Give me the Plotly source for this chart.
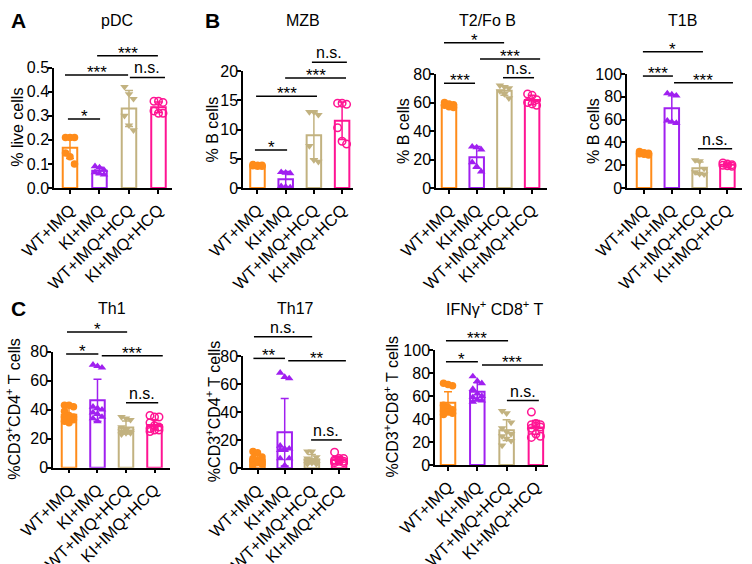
import plotly.graph_objects as go

W, H = 752, 564
FONT = "Arial, 'Liberation Sans', sans-serif"

groups = ["WT+IMQ", "KI+IMQ", "WT+IMQ+HCQ", "KI+IMQ+HCQ"]
colors = ["#FF8C1A", "#A020F0", "#C2B280", "#FF1493"]
symbols = ["circle", "triangle-up", "triangle-down", "circle-open"]

# ---------------- data ----------------
pdc_mean = [0.167, 0.072, 0.33, 0.335]
pdc_sd = [0.045, 0.014, 0.075, 0.022]
pdc_pts = [[0.21, 0.21, 0.21, 0.145, 0.13, 0.10],
           [0.09, 0.085, 0.075, 0.065, 0.06, 0.055],
           [0.42, 0.39, 0.37, 0.30, 0.26, 0.24],
           [0.36, 0.36, 0.355, 0.32, 0.31, 0.31]]
pdc_sig = [("*", -0.07, 1.02, 0.286), ("***", -0.17, 1.97, 0.469),
           ("n.s.", 2.03, 3.22, 0.459), ("***", 0.92, 2.98, 0.549)]

mzb_mean = [3.8, 1.5, 9.0, 11.5]
mzb_sd = [0.2, 1.3, 4.0, 3.2]
mzb_pts = [[4.0, 3.9, 3.9, 3.8, 3.7, 3.7],
           [2.7, 2.6, 2.5, 0.3, 0.2, 0.1],
           [13.0, 13.0, 12.5, 7.2, 4.8, 4.5],
           [14.5, 14.5, 14.3, 10.3, 8.0, 7.5]]
mzb_sig = [("*", -0.09, 1.05, 6.5), ("***", -0.05, 2.11, 15.7),
           ("***", 0.98, 3.14, 18.8), ("n.s.", 1.93, 3.17, 21.5)]

t2_mean = [58.2, 21.5, 68.3, 61.7]
t2_sd = [1.2, 7.6, 3.3, 3.3]
t2_pts = [[60, 59, 58.5, 58, 57, 56.5],
          [29, 28.5, 27, 18, 15, 11.5],
          [72, 71, 70, 68, 66, 63],
          [66, 65, 62, 60, 59, 58]]
t2_sig = [("*", -0.18, 1.99, 102), ("***", 1.12, 3.29, 90.5),
          ("***", -0.18, 0.94, 73.5), ("n.s.", 1.95, 3.07, 77.4)]

t1b_mean = [30.3, 70.0, 17.3, 20.3]
t1b_sd = [1.1, 12.0, 5.5, 1.1]
t1b_pts = [[32, 31, 30.5, 30, 29.5, 29],
           [83, 82, 81, 59, 58, 57],
           [24.5, 23.5, 17, 14, 12.5, 12],
           [22, 21, 20.5, 20, 19.5, 19]]
t1b_sig = [("*", -0.04, 2.12, 119.6), ("***", -0.04, 1.04, 98.2),
           ("***", 1.08, 3.2, 92.4), ("n.s.", 1.94, 3.17, 34.5)]

th1_mean = [36.6, 46.5, 27.7, 29.5]
th1_sd = [4.7, 14.5, 4.5, 3.5]
th1_pts = [[43, 43, 42, 39, 36, 35, 35, 34, 33, 32, 31],
           [71, 70, 69, 42, 41, 40, 38, 37, 35, 34, 32],
           [35, 34, 33, 28, 26, 25, 25, 24, 24, 23],
           [36, 35, 35, 31, 29, 28, 27, 26, 26, 25]]
th1_sig = [("*", -0.07, 2.04, 93.6), ("*", -0.1, 1.03, 78.4),
           ("***", 1.15, 3.29, 77.2), ("n.s.", 2.0, 3.13, 44.8)]

th17_mean = [6.3, 25.7, 6.5, 6.0]
th17_sd = [3.3, 24.0, 3.3, 2.0]
th17_pts = [[12, 11, 8, 7, 6, 5, 5, 4, 3, 2],
            [68, 65, 64, 16, 14, 14, 13, 13, 7, 7, 2],
            [12, 12, 8, 7, 6, 5, 5, 4, 3, 3],
            [11.5, 7, 7, 6, 6, 5, 5, 5, 4, 4]]
th17_sig = [("n.s.", -0.13, 2.01, 93.7), ("**", -0.15, 1.01, 78.3),
            ("**", 1.13, 3.25, 76.6), ("n.s.", 1.97, 3.1, 20.2)]

ifn_mean = [54.2, 63.6, 30.3, 32.7]
ifn_sd = [9.5, 8.0, 9.0, 6.0]
ifn_pts = [[71, 70, 69, 52, 50, 48, 47, 46, 45, 44],
           [77, 73, 71, 66, 62, 60, 59, 57, 56, 55],
           [47, 45, 37, 32, 29, 27, 25, 23, 21, 17],
           [46, 36, 35, 35, 34, 33, 32, 27, 25, 24]]
ifn_sig = [("***", -0.07, 2.05, 108), ("*", -0.07, 1.02, 89.8),
           ("***", 1.16, 3.24, 87), ("n.s.", 2.01, 3.1, 56)]

# ---------------- layout of panels (pixel boxes) ----------------
panels = [
    dict(title="pDC", ytitle="% live cells", mean=pdc_mean, sd=pdc_sd, pts=pdc_pts, sig=pdc_sig,
         L=54, R=172, top=67.5, bot=188, xr=[-0.542, 3.458], ymax=0.5, dtick=0.1, fmt=".1f",
         tx=117, ty=20, ytx=18),
    dict(title="MZB", ytitle="% B cells", mean=mzb_mean, sd=mzb_sd, pts=mzb_pts, sig=mzb_sig,
         L=243, R=353, top=71, bot=188, xr=[-0.514, 3.387], ymax=20, dtick=5, fmt="",
         tx=303, ty=20, ytx=212),
    dict(title="T2/Fo B", ytitle="% B cells", mean=t2_mean, sd=t2_sd, pts=t2_pts, sig=t2_sig,
         L=436, R=547, top=74, bot=188, xr=[-0.469, 3.538], ymax=80, dtick=20, fmt="",
         tx=487, ty=20, ytx=403),
    dict(title="T1B", ytitle="% B cells", mean=t1b_mean, sd=t1b_sd, pts=t1b_pts, sig=t1b_sig,
         L=627, R=742, top=74, bot=188, xr=[-0.612, 3.525], ymax=100, dtick=20, fmt="",
         tx=682, ty=20, ytx=593),
    dict(title="Th1", ytitle="%CD3<sup>+</sup>CD4<sup>+</sup> T cells", mean=th1_mean, sd=th1_sd,
         pts=th1_pts, sig=th1_sig,
         L=53, R=170, top=351.7, bot=467.7, xr=[-0.561, 3.544], ymax=80, dtick=20, fmt="",
         tx=112, ty=308, ytx=13),
    dict(title="Th17", ytitle="%CD3<sup>+</sup>CD4<sup>+</sup> T cells", mean=th17_mean, sd=th17_sd,
         pts=th17_pts, sig=th17_sig,
         L=243, R=350, top=356, bot=468.3, xr=[-0.533, 3.401], ymax=80, dtick=20, fmt="",
         tx=295, ty=308, ytx=213),
    dict(title="IFNγ<sup>+</sup> CD8<sup>+</sup> T", ytitle="%CD3<sup>+</sup>CD8<sup>+</sup> T cells",
         mean=ifn_mean, sd=ifn_sd, pts=ifn_pts, sig=ifn_sig,
         L=435, R=548, top=350, bot=465, xr=[-0.444, 3.413], ymax=100, dtick=20, fmt="",
         tx=494, ty=308, ytx=392),
]

letters = [("A", 18, 20), ("B", 212, 20), ("C", 18, 308)]

fig = go.Figure()
annotations = []
shapes = []

for k, p in enumerate(panels, start=1):
    xa = "x" if k == 1 else f"x{k}"
    ya = "y" if k == 1 else f"y{k}"
    span = p["xr"][1] - p["xr"][0]
    unit_px = (p["R"] - p["L"]) / span
    bw = 14.5 / unit_px
    for g in range(4):
        fig.add_trace(go.Bar(
            x=[g], y=[p["mean"][g]], width=bw, xaxis=xa, yaxis=ya,
            marker=dict(color="rgba(255,255,255,0)", line=dict(color=colors[g], width=2)),
            error_y=dict(type="data", array=[p["sd"][g]], symmetric=True,
                         color=colors[g], thickness=1.5, width=4),
            showlegend=False, hoverinfo="skip"))
    for g in range(4):
        vals = p["pts"][g]
        offs = [(((j % 3) - 1) * 4.5) / unit_px for j in range(len(vals))]
        mk = dict(symbol=symbols[g], size=7.5, color=colors[g])
        if symbols[g] == "circle-open":
            mk["line"] = dict(color=colors[g], width=1.5)
        fig.add_trace(go.Scatter(
            x=[g + o for o in offs], y=vals, mode="markers", xaxis=xa, yaxis=ya,
            marker=mk, showlegend=False, hoverinfo="skip"))

    ax_common = dict(showline=True, linecolor="black", linewidth=1.5, ticks="outside",
                     ticklen=4, tickwidth=1.5, tickcolor="black", showgrid=False,
                     zeroline=False, fixedrange=True, automargin=False)
    fig.layout["xaxis" if k == 1 else f"xaxis{k}"] = dict(
        domain=[p["L"] / W, p["R"] / W], anchor=ya, range=p["xr"],
        tickvals=[0, 1, 2, 3], ticktext=groups, tickangle=-45,
        tickfont=dict(family=FONT, size=16.5, color="black"), **ax_common)
    fig.layout["yaxis" if k == 1 else f"yaxis{k}"] = dict(
        domain=[1 - p["bot"] / H, 1 - p["top"] / H], anchor=xa, range=[0, p["ymax"]],
        dtick=p["dtick"], tick0=0, tickformat=p["fmt"], ticklabelstandoff=-4,
        tickfont=dict(family=FONT, size=16, color="black"), **ax_common)

    xd = f"{xa} domain"
    yd = f"{ya} domain"
    for (txt, c0, c1, yv) in p["sig"]:
        x0 = (c0 - p["xr"][0]) / span
        x1 = (c1 - p["xr"][0]) / span
        yy = yv / p["ymax"]
        shapes.append(dict(type="line", xref=xd, yref=yd, x0=x0, x1=x1, y0=yy, y1=yy,
                           line=dict(color="black", width=1.5)))
        star = txt != "n.s."
        annotations.append(dict(text=txt, xref=xd, yref=yd, x=(x0 + x1) / 2, y=yy,
                                xanchor="center", yanchor="bottom", showarrow=False,
                                yshift=-9 if star else -1,
                                font=dict(family=FONT, size=17 if star else 16, color="black")))
    annotations.append(dict(text=p["title"], xref="paper", yref="paper",
                            x=p["tx"] / W, y=1 - p["ty"] / H, xanchor="center",
                            yanchor="middle", showarrow=False,
                            font=dict(family=FONT, size=16, color="black")))
    annotations.append(dict(text=p["ytitle"], xref="paper", yref="paper",
                            x=p["ytx"] / W, y=1 - (p["top"] + p["bot"]) / 2 / H,
                            xanchor="center", yanchor="middle", textangle=-90,
                            showarrow=False, font=dict(family=FONT, size=16, color="black")))

for (t, px, py) in letters:
    annotations.append(dict(text=f"<b>{t}</b>", xref="paper", yref="paper",
                            x=px / W, y=1 - py / H, xanchor="center", yanchor="middle",
                            showarrow=False, font=dict(family=FONT, size=21, color="black")))

fig.update_layout(template="none", width=W, height=H, margin=dict(l=0, r=0, t=0, b=0),
                  paper_bgcolor="white", plot_bgcolor="white", barmode="overlay",
                  showlegend=False, annotations=annotations, shapes=shapes,
                  font=dict(family=FONT, color="black"))

fig.write_html("out.html", config={"displayModeBar": False},
               post_script="document.body.style.margin='0';document.body.style.padding='0';")
